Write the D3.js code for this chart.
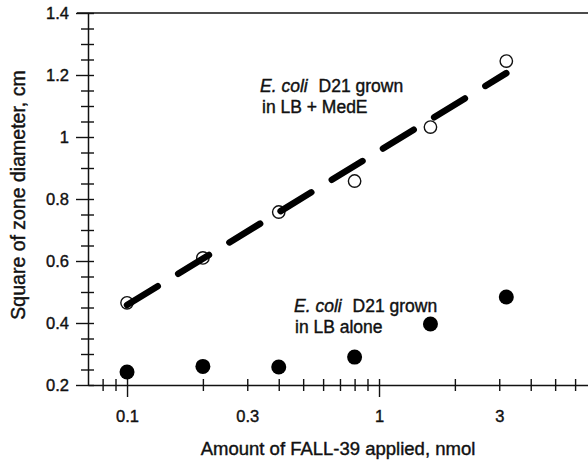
<!DOCTYPE html>
<html>
<head>
<meta charset="utf-8">
<script src="https://cdn.jsdelivr.net/npm/d3@7"></script>
<style>
  body { margin: 0; background: #fff; }
  text { font-family: "Liberation Sans", Arial, Helvetica, sans-serif; fill: #111; stroke: #111; stroke-width: 0.4px; }
</style>
</head>
<body>
<div id="chart"></div>
<script>
// data
var doses = [0.1, 0.2, 0.4, 0.8, 1.6, 3.2];          // nmol FALL-39
var medE = [0.465, 0.61, 0.758, 0.858, 1.032, 1.245]; // LB + MedE (open)
var lbAlone = [0.242, 0.26, 0.258, 0.29, 0.397, 0.484]; // LB alone (filled)
var fitX = [0.1, 3.2];
var fitY = [0.458, 1.206];

var yMajor = [0.2, 0.4, 0.6, 0.8, 1.0, 1.2, 1.4];
var yLabels = ["0.2", "0.4", "0.6", "0.8", "1", "1.2", "1.4"];
var yMinor = [0.25, 0.3, 0.35, 0.45, 0.5, 0.55, 0.65, 0.7, 0.75, 0.85, 0.9, 0.95,
              1.05, 1.1, 1.15, 1.25, 1.3, 1.35];
var xMajor = [0.1, 1, 10];
var xMinor = [0.08, 0.09, 0.2, 0.3, 0.4, 0.5, 0.6, 0.7, 0.8, 0.9, 2, 3, 4, 5, 6, 7, 8, 9];
var xLabelVals = [0.1, 0.3, 1, 3];
var xLabels = ["0.1", "0.3", "1", "3"];

var svgWidth = 588;
var svgHeight = 460;

var svg = d3.select("#chart")
    .append("svg")
    .attr("width", svgWidth)
    .attr("height", svgHeight);

// log x, decade ~252px, axis starts at 0.07
var x = d3.scaleLog()
    .domain([0.07, 10])
    .range([88, 631]);

var y = d3.scaleLinear()
    .domain([0.2, 1.4])
    .range([385, 13]);

var axisColor = "#111";

// frame top line
svg.append("line")
    .attr("x1", x(0.07) - 11).attr("x2", x(10))
    .attr("y1", y(1.4)).attr("y2", y(1.4))
    .attr("stroke", axisColor).attr("stroke-width", 1.5);

// x axis
var xTickVals = xMajor.concat(xMinor);
var xAxis = svg.append("g")
    .attr("transform", `translate(0, ${y(0.2)})`)
    .call(d3.axisBottom(x)
        .tickValues(xTickVals)
        .tickSizeOuter(0)
        .tickFormat(function (d) {
            var i = xLabelVals.indexOf(d);
            return i >= 0 ? xLabels[i] : "";
        }));

xAxis.select(".domain").attr("stroke", axisColor).attr("stroke-width", 1.5);
xAxis.selectAll(".tick line")
    .attr("stroke", axisColor)
    .attr("stroke-width", 1.4)
    .attr("y1", -6)
    .attr("y2", d => xMajor.indexOf(d) >= 0 ? 12 : 6);
xAxis.selectAll(".tick text")
    .attr("y", 37)
    .attr("dy", 0)
    .style("font-size", "16.5px");

// y axis
var yAxis = svg.append("g")
    .attr("transform", `translate(${x(0.07)}, 0)`)
    .call(d3.axisLeft(y)
        .tickValues(yMajor.concat(yMinor))
        .tickSizeOuter(0)
        .tickFormat(function (d) {
            var i = yMajor.findIndex(v => Math.abs(v - d) < 1e-9);
            return i >= 0 ? yLabels[i] : "";
        }));

yAxis.select(".domain").attr("stroke", axisColor).attr("stroke-width", 1.5);
yAxis.selectAll(".tick line")
    .attr("stroke", axisColor)
    .attr("stroke-width", 1.4)
    .attr("x1", 6)
    .attr("x2", d => yMajor.some(v => Math.abs(v - d) < 1e-9) ? -12 : -7);
yAxis.selectAll(".tick text")
    .attr("x", -19)
    .style("font-size", "16.5px");

// open circles (LB + MedE)
svg.selectAll(".open")
    .data(doses)
    .enter()
    .append("circle")
    .attr("class", "open")
    .attr("cx", d => x(d))
    .attr("cy", (d, i) => y(medE[i]))
    .attr("r", 6.2)
    .attr("fill", "#fff")
    .attr("stroke", "#111")
    .attr("stroke-width", 1.4);

// dashed fit line
var line = d3.line()
    .x(d => x(d[0]))
    .y(d => y(d[1]));

svg.append("path")
    .datum(fitX.map((d, i) => [d, fitY[i]]))
    .attr("d", line)
    .attr("fill", "none")
    .attr("stroke", "#000")
    .attr("stroke-width", 6.5)
    .attr("stroke-linecap", "round")
    .attr("stroke-dasharray", "36,24");

// filled circles (LB alone)
svg.selectAll(".filled")
    .data(doses)
    .enter()
    .append("circle")
    .attr("class", "filled")
    .attr("cx", d => x(d))
    .attr("cy", (d, i) => y(lbAlone[i]))
    .attr("r", 7.5)
    .attr("fill", "#000");

// annotations
var note1 = svg.append("text").attr("x", 260).attr("y", 92).style("font-size", "17.5px");
note1.append("tspan").style("font-style", "italic").text("E. coli");
note1.append("tspan").attr("dx", 6).text(" D21 grown");
svg.append("text").attr("x", 262).attr("y", 113).style("font-size", "17.5px").text("in LB + MedE");

var note2 = svg.append("text").attr("x", 294).attr("y", 312).style("font-size", "17.5px");
note2.append("tspan").style("font-style", "italic").text("E. coli");
note2.append("tspan").attr("dx", 6).text(" D21 grown");
svg.append("text").attr("x", 295).attr("y", 333).style("font-size", "17.5px").text("in LB alone");

// axis titles
svg.append("text")
    .attr("transform", "rotate(-90)")
    .attr("x", -195)
    .attr("y", 25)
    .attr("text-anchor", "middle")
    .style("font-size", "19.5px")
    .text("Square of zone diameter, cm");

svg.append("text")
    .attr("x", 338)
    .attr("y", 455)
    .attr("text-anchor", "middle")
    .style("font-size", "18.5px")
    .text("Amount of FALL-39 applied, nmol");
</script>
</body>
</html>
